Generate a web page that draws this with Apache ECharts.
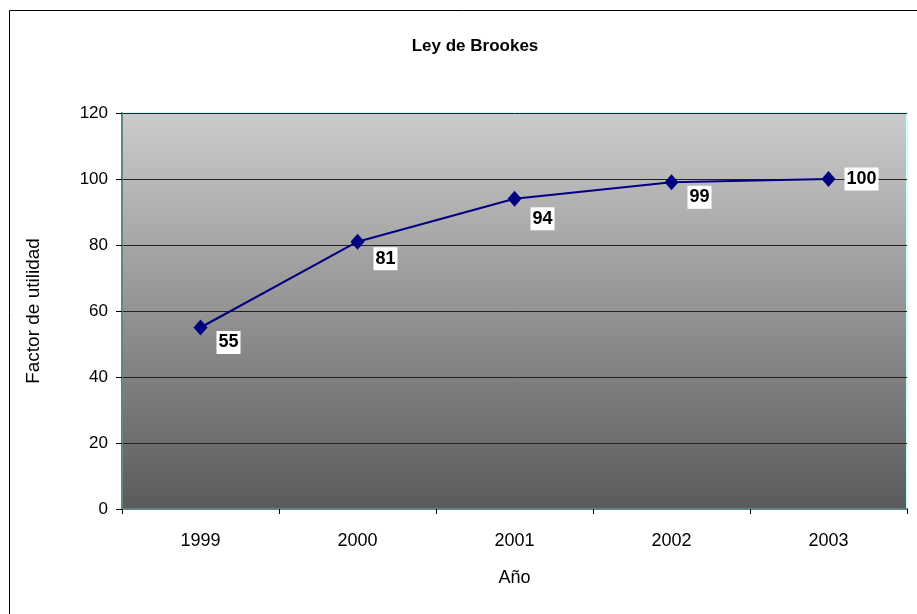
<!DOCTYPE html>
<html>
<head>
<meta charset="utf-8">
<script src="https://cdn.jsdelivr.net/npm/echarts@6/dist/echarts.min.js"></script>
<style>
html,body{margin:0;padding:0;background:#fff;}
#c{width:917px;height:614px;}
</style>
</head>
<body>
<div id="c"></div>
<script>
var years = ['1999', '2000', '2001', '2002', '2003'];
var utilidad = [55, 81, 94, 99, 100];
var labelOffsets = [[28, 15], [28, 17], [28, 20], [28, 15], [33, 0]];

var chart = echarts.init(document.getElementById('c'), null, {renderer: 'canvas'});
var font = 'Arial, "Liberation Sans", sans-serif';

var data = utilidad.map(function (v, i) {
  return {
    value: v,
    label: {offset: labelOffsets[i]}
  };
});

chart.setOption({
  animation: false,
  backgroundColor: '#fff',
  title: {
    text: 'Ley de Brookes',
    left: 470,
    top: 33,
    textAlign: 'center',
    textStyle: {fontFamily: font, fontSize: 17, fontWeight: 'bold', color: '#000'}
  },
  graphic: [{
    type: 'rect',
    shape: {x: 9.5, y: 10.5, width: 940, height: 640},
    style: {fill: 'none', stroke: '#000', lineWidth: 1},
    silent: true
  }],
  grid: {
    left: 122, right: 10, top: 113, bottom: 105,
    show: true,
    borderColor: '#ccffff',
    borderWidth: 2,
    backgroundColor: {
      type: 'linear', x: 0, y: 0, x2: 0, y2: 1,
      colorStops: [{offset: 0, color: '#cccccc'}, {offset: 1, color: '#5a5a5a'}]
    }
  },
  xAxis: {
    type: 'category',
    data: years,
    boundaryGap: true,
    name: 'Año',
    nameLocation: 'middle',
    nameGap: 60,
    nameTextStyle: {fontFamily: font, fontSize: 18, color: '#000'},
    axisLine: {lineStyle: {color: '#5f8585', width: 2}},
    axisTick: {show: true, length: 5, inside: false, alignWithLabel: false, lineStyle: {color: '#000'}},
    axisLabel: {fontFamily: font, fontSize: 18, color: '#000', margin: 23},
    splitLine: {show: false}
  },
  yAxis: {
    type: 'value',
    min: 0, max: 120, interval: 20,
    name: 'Factor de utilidad',
    nameLocation: 'middle',
    nameGap: 79,
    nameTextStyle: {fontFamily: font, fontSize: 19, color: '#000'},
    axisLine: {show: true, lineStyle: {color: '#5f8585', width: 2}},
    axisTick: {show: true, length: 6, lineStyle: {color: '#000'}},
    axisLabel: {fontFamily: font, fontSize: 17, color: '#000', margin: 14},
    splitLine: {show: true, lineStyle: {color: '#222', width: 1}}
  },
  series: [{
    type: 'line',
    data: data,
    symbol: 'diamond',
    symbolSize: [14, 16],
    lineStyle: {color: '#000080', width: 2},
    itemStyle: {color: '#000080'},
    label: {
      show: true,
      position: 'inside',
      fontFamily: font,
      fontSize: 18,
      fontWeight: 'bold',
      color: '#000',
      backgroundColor: '#fff',
      padding: [3, 2, 2, 2]
    }
  }]
});
</script>
</body>
</html>
